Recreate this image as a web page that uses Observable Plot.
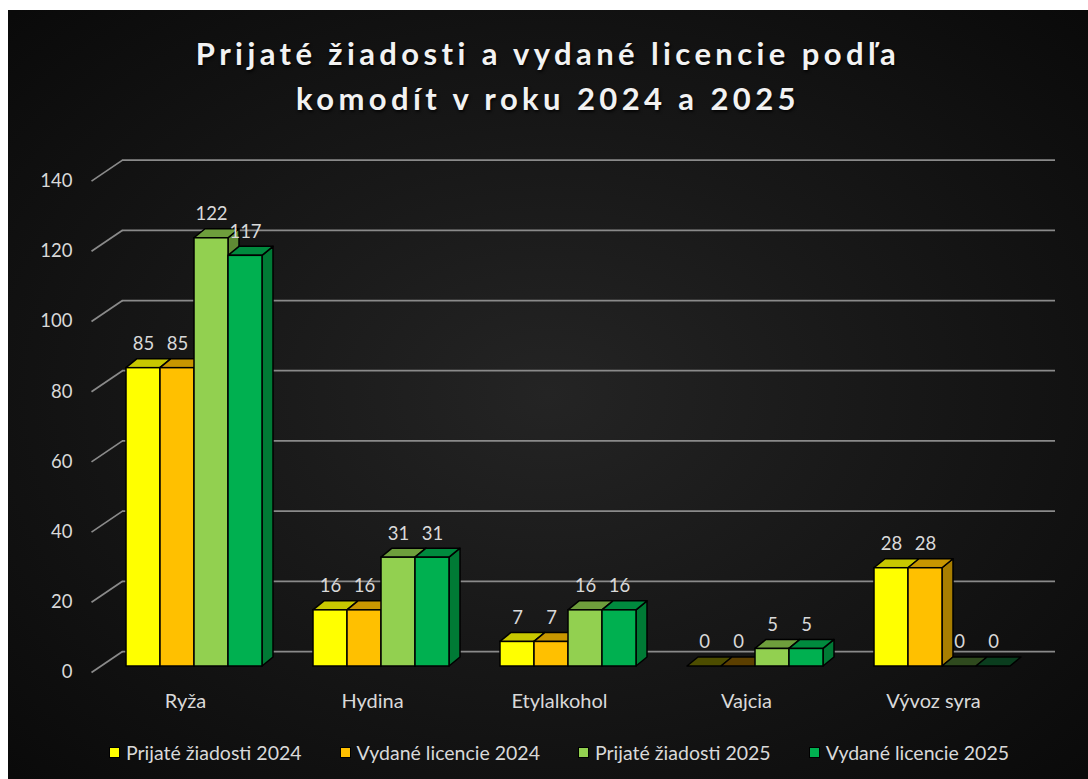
<!DOCTYPE html>
<html>
<head>
<meta charset="utf-8">
<script src="https://cdn.jsdelivr.net/npm/d3@7"></script>
<script src="https://cdn.jsdelivr.net/npm/@observablehq/plot@0.6"></script>
<style>
  html, body { margin: 0; padding: 0; background: #ffffff; }
  #chart {
    position: absolute; left: 8px; top: 10px; width: 1080px; height: 769px; overflow: hidden;
    background: radial-gradient(ellipse 70% 70% at 50% 50%, #242424 0%, #181818 45%, #0a0a0a 100%);
    font-family: Lato, "Open Sans", sans-serif;
  }
  #title {
    height: 130px; box-sizing: border-box; padding-top: 21px;
    text-align: center; color: #f2f2f2; font-weight: bold; font-size: 31px; line-height: 45px;
    letter-spacing: 4.4px; text-shadow: 1px 2px 3px rgba(0,0,0,0.8);
  }
  #plot { height: 590px; }
  #legend {
    height: 45px; display: flex; justify-content: center; align-items: center;
    padding-left: 22px; gap: 38px; color: #d9d9d9; font-size: 19.5px;
  }
  .item { display: flex; align-items: center; gap: 6px; }
  .sw { width: 9px; height: 9px; border: 1px solid #000; }
</style>
</head>
<body>
<div id="chart">
  <div id="title">Prijaté žiadosti a vydané licencie podľa<br>komodít v roku 2024 a 2025</div>
  <div id="plot"></div>
  <div id="legend"></div>
</div>
<script>
// ---- data ----
const categories = ["Ryža", "Hydina", "Etylalkohol", "Vajcia", "Vývoz syra"];
const seriesNames = ["Prijaté žiadosti 2024", "Vydané licencie 2024", "Prijaté žiadosti 2025", "Vydané licencie 2025"];
const prijate2024 = [85, 16, 7, 0, 28];
const vydane2024 = [85, 16, 7, 0, 28];
const prijate2025 = [122, 31, 16, 5, 0];
const vydane2025 = [117, 31, 16, 5, 0];
const yTicks = [0, 20, 40, 60, 80, 100, 120, 140];

// ---- styles ----
const frontColors = ["#FFFF00", "#FFC000", "#92D050", "#00B050"];
const topColors = ["#C8C800", "#C89600", "#6E9E3C", "#008A3E"];
const sideColors = ["#B0B000", "#A87E00", "#5F8A34", "#007A35"];
const zeroColors = ["#4D4D00", "#5C3F00", "#2F4A1E", "#0A3D1E"];

const seriesValues = [prijate2024, vydane2024, prijate2025, vydane2025];

// geometry in scale units
const BW = 34 / 187;          // bar width (group spacing = 1)
const DX = 11 / 187;          // depth offset in x
const PXU = (526 - 34.6) / 140; // pixels per y unit
const DY = 9 / PXU;           // depth offset in y

const bars = [];
seriesValues.forEach((vals, k) => {
  vals.forEach((v, i) => {
    const x1 = i + (k - 2) * BW;
    bars.push({cat: categories[i], i, k, value: v, x1, x2: x1 + BW, xc: x1 + BW / 2});
  });
});

const topPts = [];
const sidePts = [];
bars.forEach((b, n) => {
  const f = b.value === 0 ? zeroColors[b.k] : topColors[b.k];
  const v = b.value;
  topPts.push(
    {id: n, x: b.x1, y1: v, y2: v, fill: f},
    {id: n, x: b.x1 + DX, y1: v, y2: v + DY, fill: f},
    {id: n, x: b.x2, y1: v, y2: v + DY, fill: f},
    {id: n, x: b.x2 + DX, y1: v + DY, y2: v + DY, fill: f}
  );
  if (v > 0) {
    sidePts.push(
      {id: n, x: b.x2, y1: 0, y2: v, fill: sideColors[b.k]},
      {id: n, x: b.x2 + DX, y1: DY, y2: v + DY, fill: sideColors[b.k]}
    );
  }
});

const gridColor = "#8a8a8a";
const textColor = "#d9d9d9";
const wallX0 = (91 - 194) / 187, wallX1 = (122 - 194) / 187, wallXEnd = (1055 - 194) / 187;

const chart = Plot.plot({
  width: 1080, height: 590,
  marginLeft: 92.5, marginRight: 52.5, marginTop: 34.6, marginBottom: 64,
  x: {domain: [-0.5, 4.5], axis: null},
  y: {domain: [0, 140], axis: null},
  color: {type: "identity"},
  style: {background: "transparent", fontFamily: "Lato, 'Open Sans', sans-serif", fontSize: "18.5px", overflow: "visible"},
  marks: [
    // back-wall gridlines
    Plot.ruleY(yTicks, {y: d => d, x1: wallX1, x2: wallXEnd, dy: -15, stroke: gridColor, strokeWidth: 1.75}),
    // side-wall diagonals
    Plot.link(yTicks, {x1: wallX0, y1: d => d, x2: wallX1, y2: d => d + 21 / PXU, dy: 6, stroke: gridColor, strokeWidth: 1.75}),
    // tick labels
    Plot.text(yTicks, {x: wallX0, y: d => d, text: d => String(d), textAnchor: "end", dx: -19, dy: 6, fill: textColor}),
    // side faces
    Plot.areaY(sidePts, {x: "x", y1: "y1", y2: "y2", z: "id", fill: "fill", stroke: "#000", strokeWidth: 1.5, strokeLinejoin: "round"}),
    // top faces
    Plot.areaY(topPts, {x: "x", y1: "y1", y2: "y2", z: "id", fill: "fill", stroke: "#000", strokeWidth: 1.5, strokeLinejoin: "round"}),
    // front faces
    Plot.rect(bars, {x1: "x1", x2: "x2", y1: 0, y2: "value", fill: d => frontColors[d.k], stroke: "#000", strokeWidth: 1.5}),
    // data labels
    Plot.text(bars, {x: "xc", y: "value", text: d => String(d.value), dy: -24, fill: textColor}),
    // category labels
    Plot.text(categories, {x: (d, i) => i, y: 0, text: d => d, dy: 35, dx: -9, fill: textColor, fontSize: 20})
  ]
});
document.getElementById("plot").appendChild(chart);

// legend
const legend = document.getElementById("legend");
seriesNames.forEach((name, k) => {
  const item = document.createElement("div");
  item.className = "item";
  const sw = document.createElement("div");
  sw.className = "sw";
  sw.style.background = frontColors[k];
  const label = document.createElement("span");
  label.textContent = name;
  item.appendChild(sw);
  item.appendChild(label);
  legend.appendChild(item);
});
</script>
</body>
</html>
